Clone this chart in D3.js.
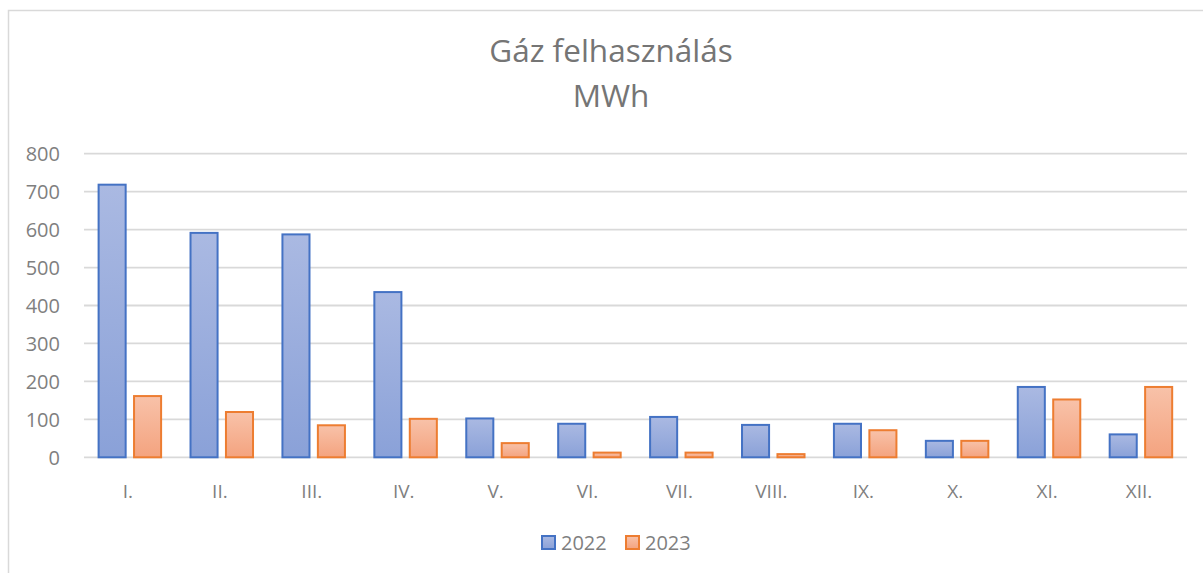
<!DOCTYPE html>
<html>
<head>
<meta charset="utf-8">
<script src="https://cdn.jsdelivr.net/npm/d3@7"></script>
<style>
  html, body { margin: 0; padding: 0; background: #fff; }
  svg { display: block; }
</style>
</head>
<body>
<svg id="chart" width="1203" height="573"></svg>
<script>
const categories = ["I.", "II.", "III.", "IV.", "V.", "VI.", "VII.", "VIII.", "IX.", "X.", "XI.", "XII."];
const seriesNames = ["2022", "2023"];
const values2022 = [721, 594, 590, 438, 105, 91, 109, 88, 91, 46, 188, 63];
const values2023 = [164, 122, 87, 104, 40, 15, 15, 11, 74, 46, 155, 188];
const yTicks = [0, 100, 200, 300, 400, 500, 600, 700, 800];
const titleLines = ["Gáz felhasználás", "MWh"];

(function () {
const svg = d3.select("#chart");
const font = "'Open Sans', 'Liberation Sans', sans-serif";
const textColor = "#7f7f7f";

// chart border
svg.append("rect")
  .attr("x", 8.5).attr("y", 10.5).attr("width", 1240).attr("height", 600)
  .attr("fill", "#fff").attr("stroke", "#d9d9d9").attr("stroke-width", 1.5);

const defs = svg.append("defs");
const gradSpecs = [
  { id: "g2022", top: "#aab9e2", bottom: "#8aa1d8" },
  { id: "g2023", top: "#f8c2a9", bottom: "#f4a37f" }
];
gradSpecs.forEach(g => {
  const lgr = defs.append("linearGradient").attr("id", g.id)
    .attr("x1", 0).attr("y1", 0).attr("x2", 0).attr("y2", 1);
  lgr.append("stop").attr("offset", "0%").attr("stop-color", g.top);
  lgr.append("stop").attr("offset", "100%").attr("stop-color", g.bottom);
});
const strokes = ["#4472c4", "#ed7d31"];
const fills = ["url(#g2022)", "url(#g2023)"];

const plotLeft = 84, plotRight = 1187, plotTop = 153.7, plotBottom = 457.3;
const y = d3.scaleLinear().domain([0, 800]).range([plotBottom, plotTop]);
const x0 = d3.scaleBand().domain(categories).range([plotLeft, plotRight]).padding(0);
const x1 = d3.scaleBand().domain(seriesNames).range([13.6, 78.1]).paddingInner(0.18).paddingOuter(0);

// gridlines
svg.append("g").selectAll("line").data(yTicks).join("line")
  .attr("x1", plotLeft).attr("x2", plotRight)
  .attr("y1", d => y(d)).attr("y2", d => y(d))
  .attr("stroke", "#d9d9d9").attr("stroke-width", 1.8);

// y axis labels
const yAxis = d3.axisLeft(y).tickValues(yTicks).tickSize(0).tickPadding(0);
const yg = svg.append("g").attr("transform", `translate(60,0)`).call(yAxis);
yg.select(".domain").remove();
yg.selectAll("text").attr("font-family", font).attr("font-size", 20).attr("fill", textColor).attr("dy", "0.35em");

// x axis labels
const xAxis = d3.axisBottom(x0).tickSize(0).tickPadding(0);
const xg = svg.append("g").attr("transform", `translate(-2,491)`).call(xAxis);
xg.select(".domain").remove();
xg.selectAll("text").attr("font-family", font).attr("font-size", 19).attr("fill", textColor).attr("dy", "0.35em");

// bars
const data = categories.map((c, i) => ({ cat: c, vals: [values2022[i], values2023[i]] }));
const groups = svg.append("g").selectAll("g").data(data).join("g")
  .attr("transform", d => `translate(${x0(d.cat)},0)`);
groups.selectAll("rect").data(d => d.vals.map((v, k) => ({ v, k }))).join("rect")
  .attr("x", d => x1(seriesNames[d.k]) + 1)
  .attr("width", x1.bandwidth() - 2)
  .attr("y", d => y(d.v) + 1)
  .attr("height", d => Math.max(0, plotBottom - y(d.v) - 1))
  .attr("fill", d => fills[d.k])
  .attr("stroke", d => strokes[d.k])
  .attr("stroke-width", 2);

// title
svg.append("text").attr("x", 611).attr("y", 62).attr("text-anchor", "middle")
  .attr("font-family", font).attr("font-size", 31.5).attr("fill", "#757575").text(titleLines[0]);
svg.append("text").attr("x", 611).attr("y", 107).attr("text-anchor", "middle")
  .attr("font-family", font).attr("font-size", 31.5).attr("fill", "#757575").text(titleLines[1]);

// legend
const legendX = [541, 625];
const lg = svg.append("g").selectAll("g").data(seriesNames).join("g")
  .attr("transform", (d, i) => `translate(${legendX[i]},535)`);
lg.append("rect").attr("x", 1).attr("y", 1).attr("width", 13).attr("height", 13)
  .attr("fill", (d, i) => fills[i]).attr("stroke", (d, i) => strokes[i]).attr("stroke-width", 2);
lg.append("text").attr("x", 20).attr("y", 7.5).attr("dy", "0.35em")
  .attr("font-family", font).attr("font-size", 20).attr("fill", textColor).text(d => d);
})();
</script>
</body>
</html>
